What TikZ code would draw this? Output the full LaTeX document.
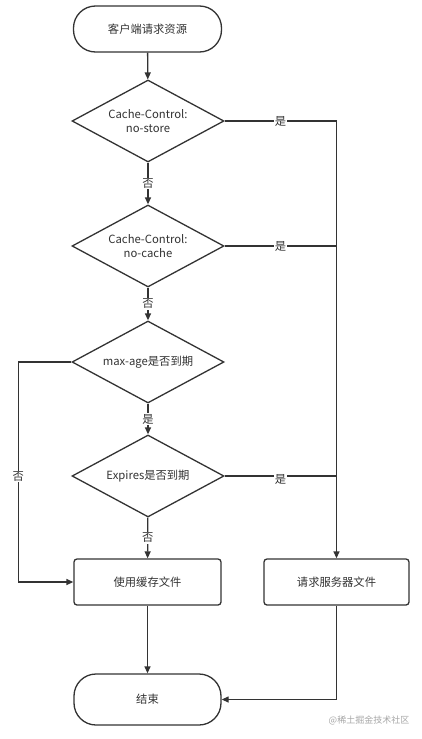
\documentclass[tikz,border=0pt]{standalone}
\usepackage{fontspec}
\setmainfont{Noto Sans CJK SC}
\usetikzlibrary{shapes.geometric,arrows.meta}
\definecolor{ink}{HTML}{333333}
\begin{document}
\begin{tikzpicture}[x=1pt,y=-1pt,
  every node/.style={font=\fontsize{11.3}{14.5}\selectfont, text=ink},
  base/.style={draw=ink, line width=1.3pt, fill=white},
  term/.style={base, rounded corners=22pt, minimum width=148pt, minimum height=46pt, inner sep=0pt},
  proc/.style={base, rounded corners=3pt, minimum height=46pt, inner sep=0pt},
  dec/.style={base, shape=diamond, aspect=1.85, minimum width=152pt, minimum height=82pt, inner sep=0pt, align=center},
  conn/.style={draw=ink, line width=1.3pt},
  arr/.style={conn, -{Triangle[length=7pt,width=6pt]}},
  lab/.style={fill=white, inner sep=1pt, text=ink}
]
\useasboundingbox (0,0) rectangle (422,739);
\node[term] (start) at (147.5,29) {客户端请求资源};
\node[dec] (d1) at (148,121) {Cache-Control:\\no-store};
\node[dec] (d2) at (148,246) {Cache-Control:\\no-cache};
\node[dec] (d3) at (148,362) {max-age是否到期};
\node[dec] (d4) at (148,476) {Expires是否到期};
\node[proc, minimum width=147pt] (cache) at (147.5,582) {使用缓存文件};
\node[proc, minimum width=145pt] (server) at (336.5,582) {请求服务器文件};
\node[term, minimum height=51pt, minimum width=147pt] (end) at (147.5,699.5) {结束};
\node[font=\fontsize{9}{11}\selectfont, text=black!35] (wm) at (369,720) {@稀土掘金技术社区};

\draw[arr] (start) -- (d1);
\draw[arr] (d1) -- node[lab]{否} (d2);
\draw[arr] (d2) -- node[lab]{否} (d3);
\draw[arr] (d3) -- node[lab]{是} (d4);
\draw[arr] (d4) -- node[lab]{否} (cache);
\draw[arr] (d1.east) -- node[lab]{是} (d1.east -| server.north) -- (server.north);
\draw[conn] (d2.east) -- node[lab]{是} (d2.east -| server.north);
\draw[conn] (d4.east) -- node[lab, yshift=-3pt]{是} (d4.east -| server.north);
\draw[arr] (d3.west) -- ++(-53,0) |- node[lab, pos=0.26]{否} (cache.west);
\draw[arr] (cache) -- (end);
\draw[arr] (server.south) |- (end.east);
\end{tikzpicture}
\end{document}
